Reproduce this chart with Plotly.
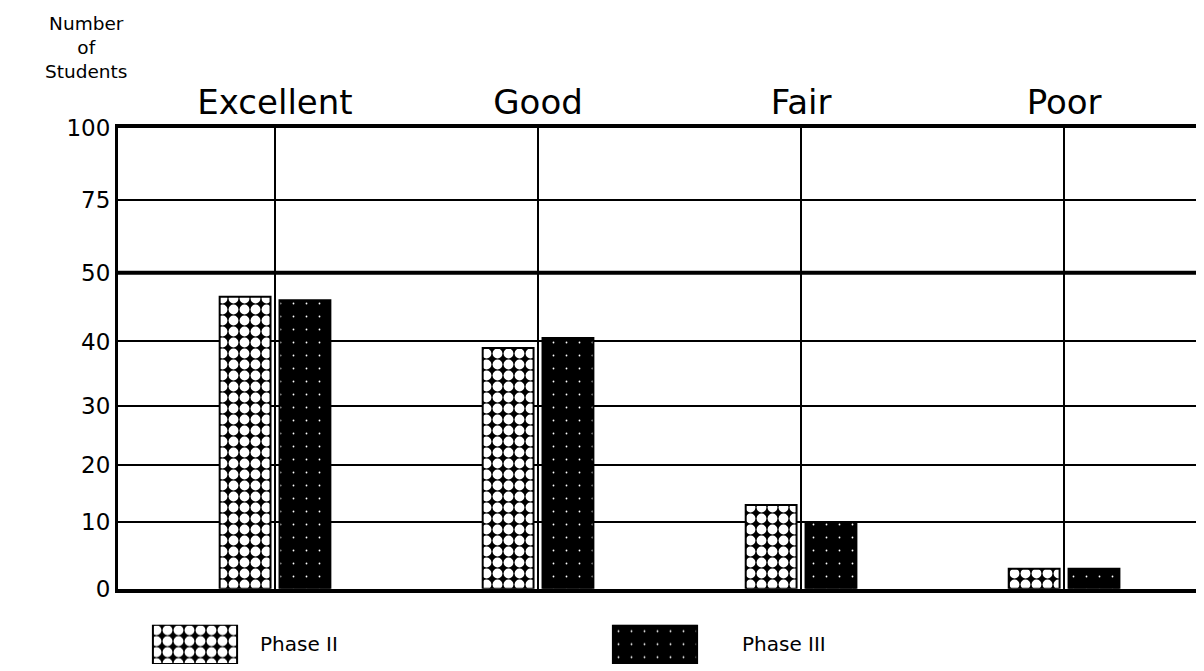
import numpy as np
import plotly.graph_objects as go

# ---------------- data ----------------
categories = ["Excellent", "Good", "Fair", "Poor"]
phase2 = [46.5, 39, 13, 3]
phase3 = [46, 40.5, 10, 3]
series_names = ["Phase II", "Phase III"]
tick_values = [0, 10, 20, 30, 40, 50, 75, 100]
tick_labels = ["0", "10", "20", "30", "40", "50", "75", "100"]

# the original chart uses an uneven value scale: axis units at each tick value
scale_pos = [0, 67, 124, 183, 248, 317, 390, 462]


def to_axis(v):
    return np.interp(v, tick_values, scale_pos)


FONT = "DejaVu Sans"
OFF = 8      # default page margin of the html body
VS = 0.98    # vertical scale observed between figure and picture


def fy(target):  # picture y -> figure y
    return target / VS - OFF


W, H = 1204 - OFF, 669
ML, MR = 118 - OFF, 0
MT = round(fy(125))
MB = 0
PW, PH = W - ML - MR, H - MT - MB


def px_x(px):  # picture x -> paper x
    return (px - OFF - ML) / PW


def px_y(py):  # picture y -> paper y
    return (H - MB - fy(py)) / PH


fig = go.Figure()

p2_pattern = dict(shape=".", bgcolor="black", fgcolor="white", fgopacity=1,
                  size=11, solidity=0.62)
p3_pattern = dict(shape=".", bgcolor="black", fgcolor="white", fgopacity=1,
                  size=13, solidity=0.015)

fig.add_trace(go.Bar(
    x=categories, y=to_axis(phase2), name=series_names[0],
    customdata=phase2, hovertemplate="%{x}: %{customdata}<extra>Phase II</extra>",
    marker=dict(color="black", line=dict(color="black", width=2), pattern=p2_pattern),
    xaxis="x", yaxis="y",
))
fig.add_trace(go.Bar(
    x=categories, y=to_axis(phase3), name=series_names[1],
    customdata=phase3, hovertemplate="%{x}: %{customdata}<extra>Phase III</extra>",
    marker=dict(color="black", line=dict(color="black", width=2), pattern=p3_pattern),
    xaxis="x", yaxis="y",
))

# legend swatches drawn as bars on a small auxiliary axis
fig.add_trace(go.Bar(
    x=[series_names[0]], y=[1], width=0.183, offset=-0.0915,
    marker=dict(color="black", line=dict(color="black", width=2), pattern=p2_pattern),
    xaxis="x2", yaxis="y2", hoverinfo="skip",
))
fig.add_trace(go.Bar(
    x=[series_names[1]], y=[1], width=0.183, offset=-0.0915,
    marker=dict(color="black", line=dict(color="black", width=2), pattern=p3_pattern),
    xaxis="x2", yaxis="y2", hoverinfo="skip",
))

main_bottom = px_y(588)

# legend axis: category centres at picture x 195 and 655
lx0 = (ML + OFF - 195) / 460.0
lx1 = lx0 + PW / 460.0

annotations = [
    dict(text="Number<br>of<br>Students", xref="paper", yref="paper",
         x=px_x(86), y=px_y(45), xanchor="center", yanchor="middle",
         showarrow=False, align="center",
         font=dict(family=FONT, size=18.5, color="black")),
    dict(text=series_names[0], xref="x2", yref="y2", x=(258 - 195) / 460.0, y=0.5,
         xanchor="left", yanchor="middle", showarrow=False,
         font=dict(family=FONT, size=20, color="black")),
    dict(text=series_names[1], xref="x2", yref="y2", x=1 + (740 - 655) / 460.0, y=0.5,
         xanchor="left", yanchor="middle", showarrow=False,
         font=dict(family=FONT, size=20, color="black")),
]

fig.update_layout(
    width=W, height=H,
    margin=dict(l=ML, r=MR, t=MT, b=MB),
    paper_bgcolor="white", plot_bgcolor="white",
    showlegend=False,
    barmode="group", bargap=0.545, bargroupgap=0.15,
    font=dict(family=FONT, color="black"),
    xaxis=dict(
        type="category", categoryorder="array", categoryarray=categories,
        range=[-0.597, 3.532], side="top", domain=[0, 1], anchor="y",
        showgrid=True, gridcolor="black", gridwidth=1.5,
        showline=True, linecolor="black", linewidth=4, mirror=True,
        ticks="", ticklen=0, ticklabelstandoff=-4,
        tickfont=dict(family=FONT, size=34, color="black"),
        fixedrange=True,
    ),
    yaxis=dict(
        domain=[main_bottom, 1], range=[0, scale_pos[-1]], anchor="x",
        tickvals=scale_pos, ticktext=tick_labels,
        showgrid=True, gridcolor="black", gridwidth=2,
        showline=True, linecolor="black", linewidth=3,
        zeroline=False, ticks="", tickfont=dict(family=FONT, size=23, color="black"),
        fixedrange=True,
    ),
    xaxis2=dict(
        type="category", categoryorder="array", categoryarray=series_names,
        domain=[0, 1], anchor="y2", range=[lx0, lx1], visible=False, fixedrange=True,
    ),
    yaxis2=dict(
        domain=[max(px_y(666), 0), px_y(624)], anchor="x2", range=[0, 1], visible=False,
        fixedrange=True,
    ),
    annotations=annotations,
)

# heavier line at 50 as in the original
fig.add_hline(y=float(to_axis(50)), line=dict(color="black", width=4), layer="below")

fig.write_html("out.html")
